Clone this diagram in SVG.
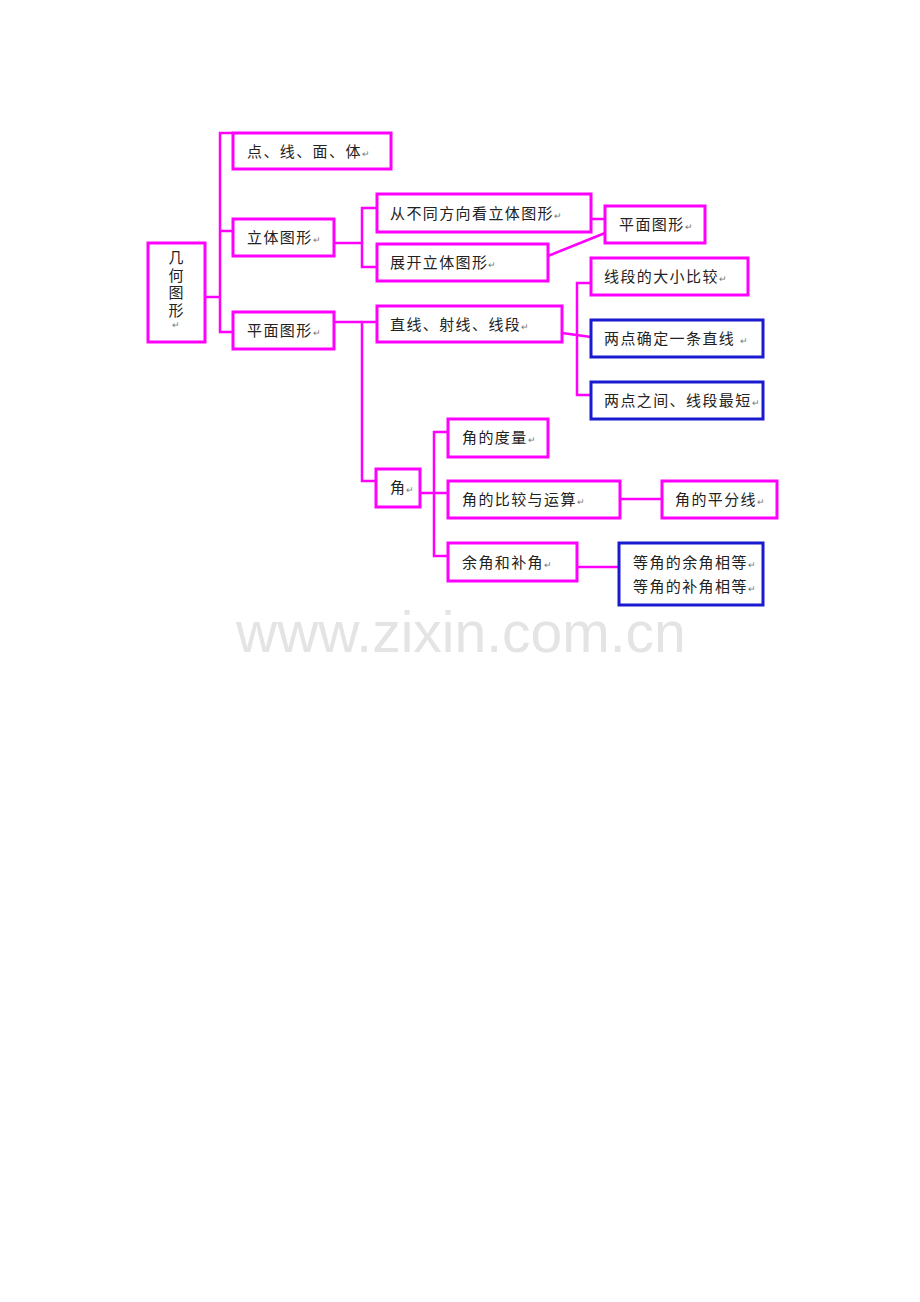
<svg xmlns="http://www.w3.org/2000/svg" width="920" height="1302" viewBox="0 0 920 1302">
<style>
.b{fill:#fff;stroke:#f0f;stroke-width:3}
.u{fill:#fff;stroke:#1a1ad0;stroke-width:3}
.c{fill:none;stroke:#f0f;stroke-width:2.5}
text{font-family:"Noto Sans CJK SC","Liberation Sans",sans-serif;font-size:15px;fill:#222;letter-spacing:1.4px}
.m{font-size:9px;fill:#777;letter-spacing:0}
.v{writing-mode:vertical-rl;text-orientation:upright;letter-spacing:2.5px}
.w{font-family:"Liberation Sans",Arial,sans-serif;font-size:57px;fill:#e4e4e4;letter-spacing:0}
</style>
<rect width="920" height="1302" fill="#fff"/>
<g id="connectors">
<polyline class="c" points="205,297 220,297"/>
<polyline class="c" points="233,133 220,133 220,332 233,332"/>
<polyline class="c" points="220,231 233,231"/>
<polyline class="c" points="334,243 362,243"/>
<polyline class="c" points="377,208 362,208 362,267 377,267"/>
<polyline class="c" points="591,219 605,219"/>
<polyline class="c" points="548,256 605,233"/>
<polyline class="c" points="334,322 362,322"/>
<polyline class="c" points="377,322 362,322 362,481 376,481"/>
<polyline class="c" points="562,333 591,337"/>
<polyline class="c" points="591,283 577,283 577,395 591,395"/>
<polyline class="c" points="420,493 434,493"/>
<polyline class="c" points="448,432 434,432 434,556 448,556"/>
<polyline class="c" points="434,493 448,493"/>
<polyline class="c" points="620,499 662,499"/>
<polyline class="c" points="577,567 619,567"/>
</g>
<g id="root"><rect class="b" x="148" y="243" width="57" height="99"/>
<text class="v" x="176" y="250">几何图形<tspan class="m">↵</tspan></text></g>
<g id="n1"><rect class="b" x="233" y="133" width="158" height="36"/><text x="247" y="157">点、线、面、体<tspan class="m">↵</tspan></text></g>
<g id="n2"><rect class="b" x="233" y="219" width="101" height="37"/><text x="247" y="243">立体图形<tspan class="m">↵</tspan></text></g>
<g id="n3"><rect class="b" x="233" y="312" width="101" height="37"/><text x="247" y="336">平面图形<tspan class="m">↵</tspan></text></g>
<g id="n4"><rect class="b" x="377" y="194" width="214" height="38"/><text x="390" y="219">从不同方向看立体图形<tspan class="m">↵</tspan></text></g>
<g id="n5"><rect class="b" x="377" y="244" width="171" height="37"/><text x="390" y="268">展开立体图形<tspan class="m">↵</tspan></text></g>
<g id="n6"><rect class="b" x="605" y="206" width="100" height="37"/><text x="619" y="230">平面图形<tspan class="m">↵</tspan></text></g>
<g id="n7"><rect class="b" x="377" y="306" width="185" height="36"/><text x="390" y="330">直线、射线、线段<tspan class="m">↵</tspan></text></g>
<g id="n8"><rect class="b" x="591" y="258" width="157" height="37"/><text x="604" y="282">线段的大小比较<tspan class="m">↵</tspan></text></g>
<g id="n9"><rect class="u" x="591" y="320" width="172" height="37"/><text x="604" y="344">两点确定一条直线 <tspan class="m">↵</tspan></text></g>
<g id="n10"><rect class="u" x="591" y="382" width="172" height="37"/><text x="604" y="406">两点之间、线段最短<tspan class="m">↵</tspan></text></g>
<g id="n11"><rect class="b" x="376" y="469" width="44" height="38"/><text x="390" y="493">角<tspan class="m">↵</tspan></text></g>
<g id="n12"><rect class="b" x="448" y="419" width="100" height="38"/><text x="462" y="443">角的度量<tspan class="m">↵</tspan></text></g>
<g id="n13"><rect class="b" x="448" y="481" width="172" height="37"/><text x="462" y="505">角的比较与运算<tspan class="m">↵</tspan></text></g>
<g id="n14"><rect class="b" x="448" y="543" width="129" height="38"/><text x="462" y="568">余角和补角<tspan class="m">↵</tspan></text></g>
<g id="n15"><rect class="b" x="662" y="481" width="115" height="37"/><text x="675" y="505">角的平分线<tspan class="m">↵</tspan></text></g>
<g id="n16"><rect class="u" x="619" y="543" width="144" height="62"/><text x="633" y="568">等角的余角相等<tspan class="m">↵</tspan></text><text x="633" y="592">等角的补角相等<tspan class="m">↵</tspan></text></g>
<text class="w" x="236" y="652">www.zixin.com.cn</text>
</svg>
